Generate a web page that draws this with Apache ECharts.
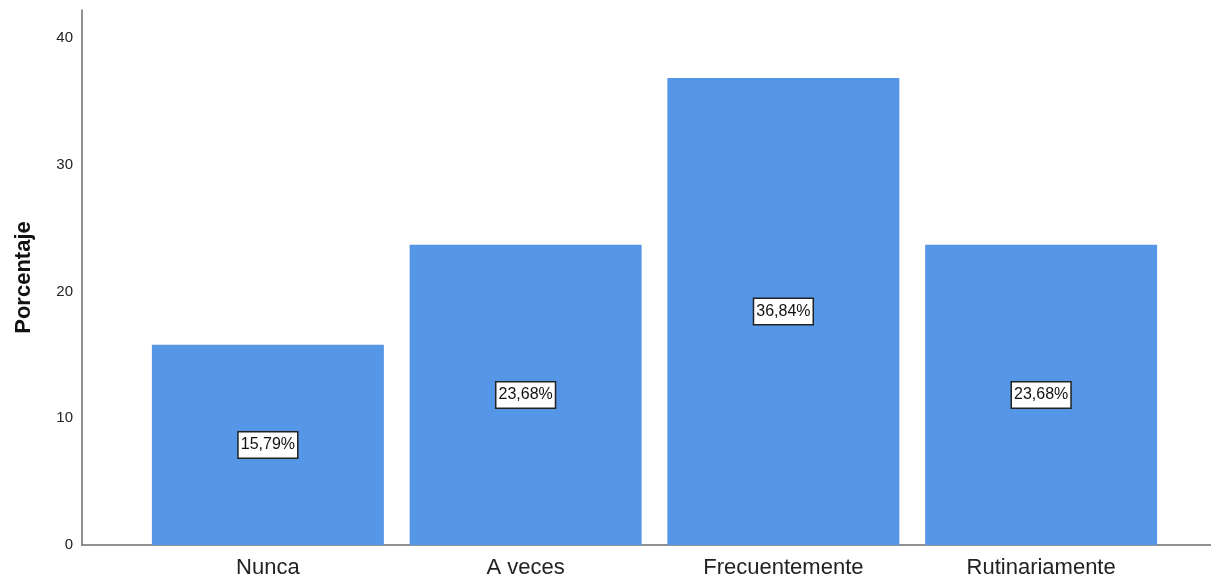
<!DOCTYPE html>
<html>
<head>
<meta charset="utf-8">
<script src="https://cdn.jsdelivr.net/npm/echarts@6/dist/echarts.min.js"></script>
<style>
	html, body { margin: 0; padding: 0; background: #fff; }
	#chart { width: 1211px; height: 583px; }
</style>
</head>
<body>
<div id="chart"></div>
<script>
	var categories = ['Nunca', 'A veces', 'Frecuentemente', 'Rutinariamente'];
	var porcentaje = [15.79, 23.68, 36.84, 23.68];
	var yMax = 42.2;

	var chart = echarts.init(document.getElementById('chart'));
	var axisColor = '#6e6e6e';
	var font = 'Liberation Sans, Arial, sans-serif';

	chart.setOption({
		backgroundColor: '#fff',
		animation: false,
		grid: [
			// outer frame: axis lines
			{ left: 82, right: 0, top: 10, bottom: 38, outerBoundsMode: 'none', containLabel: false },
			// inner area where the bars sit
			{ left: 139, right: 41, top: 10, bottom: 38, outerBoundsMode: 'none', containLabel: false }
		],
		xAxis: [
			{
				gridIndex: 0,
				type: 'value',
				min: 0,
				max: 1,
				axisLine: { show: true, lineStyle: { color: axisColor, width: 1.5 } },
				axisTick: { show: false },
				axisLabel: { show: false },
				splitLine: { show: false }
			},
			{
				gridIndex: 1,
				type: 'category',
				data: categories,
				axisLine: { show: false },
				axisTick: { show: false },
				axisLabel: {
					color: '#222',
					fontSize: 22,
					fontFamily: font,
					margin: 12,
					interval: 0
				}
			}
		],
		yAxis: [
			{
				gridIndex: 0,
				type: 'value',
				min: 0,
				max: yMax,
				interval: 10,
				name: 'Porcentaje',
				nameLocation: 'middle',
				nameRotate: 90,
				nameGap: 47,
				nameTextStyle: {
					color: '#111',
					fontSize: 22,
					fontWeight: 'bold',
					fontFamily: font
				},
				axisLine: { show: true, lineStyle: { color: axisColor, width: 1.5 } },
				axisTick: { show: false },
				axisLabel: {
					color: '#222',
					fontSize: 15,
					fontFamily: font,
					margin: 9,
					showMaxLabel: false,
					formatter: function (v) { return v % 10 === 0 ? v : ''; }
				},
				splitLine: { show: false }
			},
			{
				gridIndex: 1,
				type: 'value',
				min: 0,
				max: yMax,
				show: false
			}
		],
		series: [
			{
				type: 'bar',
				xAxisIndex: 1,
				yAxisIndex: 1,
				data: porcentaje,
				barCategoryGap: '10%',
				itemStyle: { color: '#5596e6' },
				label: {
					show: true,
					position: 'inside',
					formatter: function (p) {
						return p.value.toFixed(2).replace('.', ',') + '%';
					},
					color: '#111',
					fontSize: 16,
					fontFamily: font,
					backgroundColor: '#fff',
					borderColor: '#222',
					borderWidth: 1.5,
					padding: [5, 2, 4, 2]
				}
			}
		]
	});
</script>
</body>
</html>
